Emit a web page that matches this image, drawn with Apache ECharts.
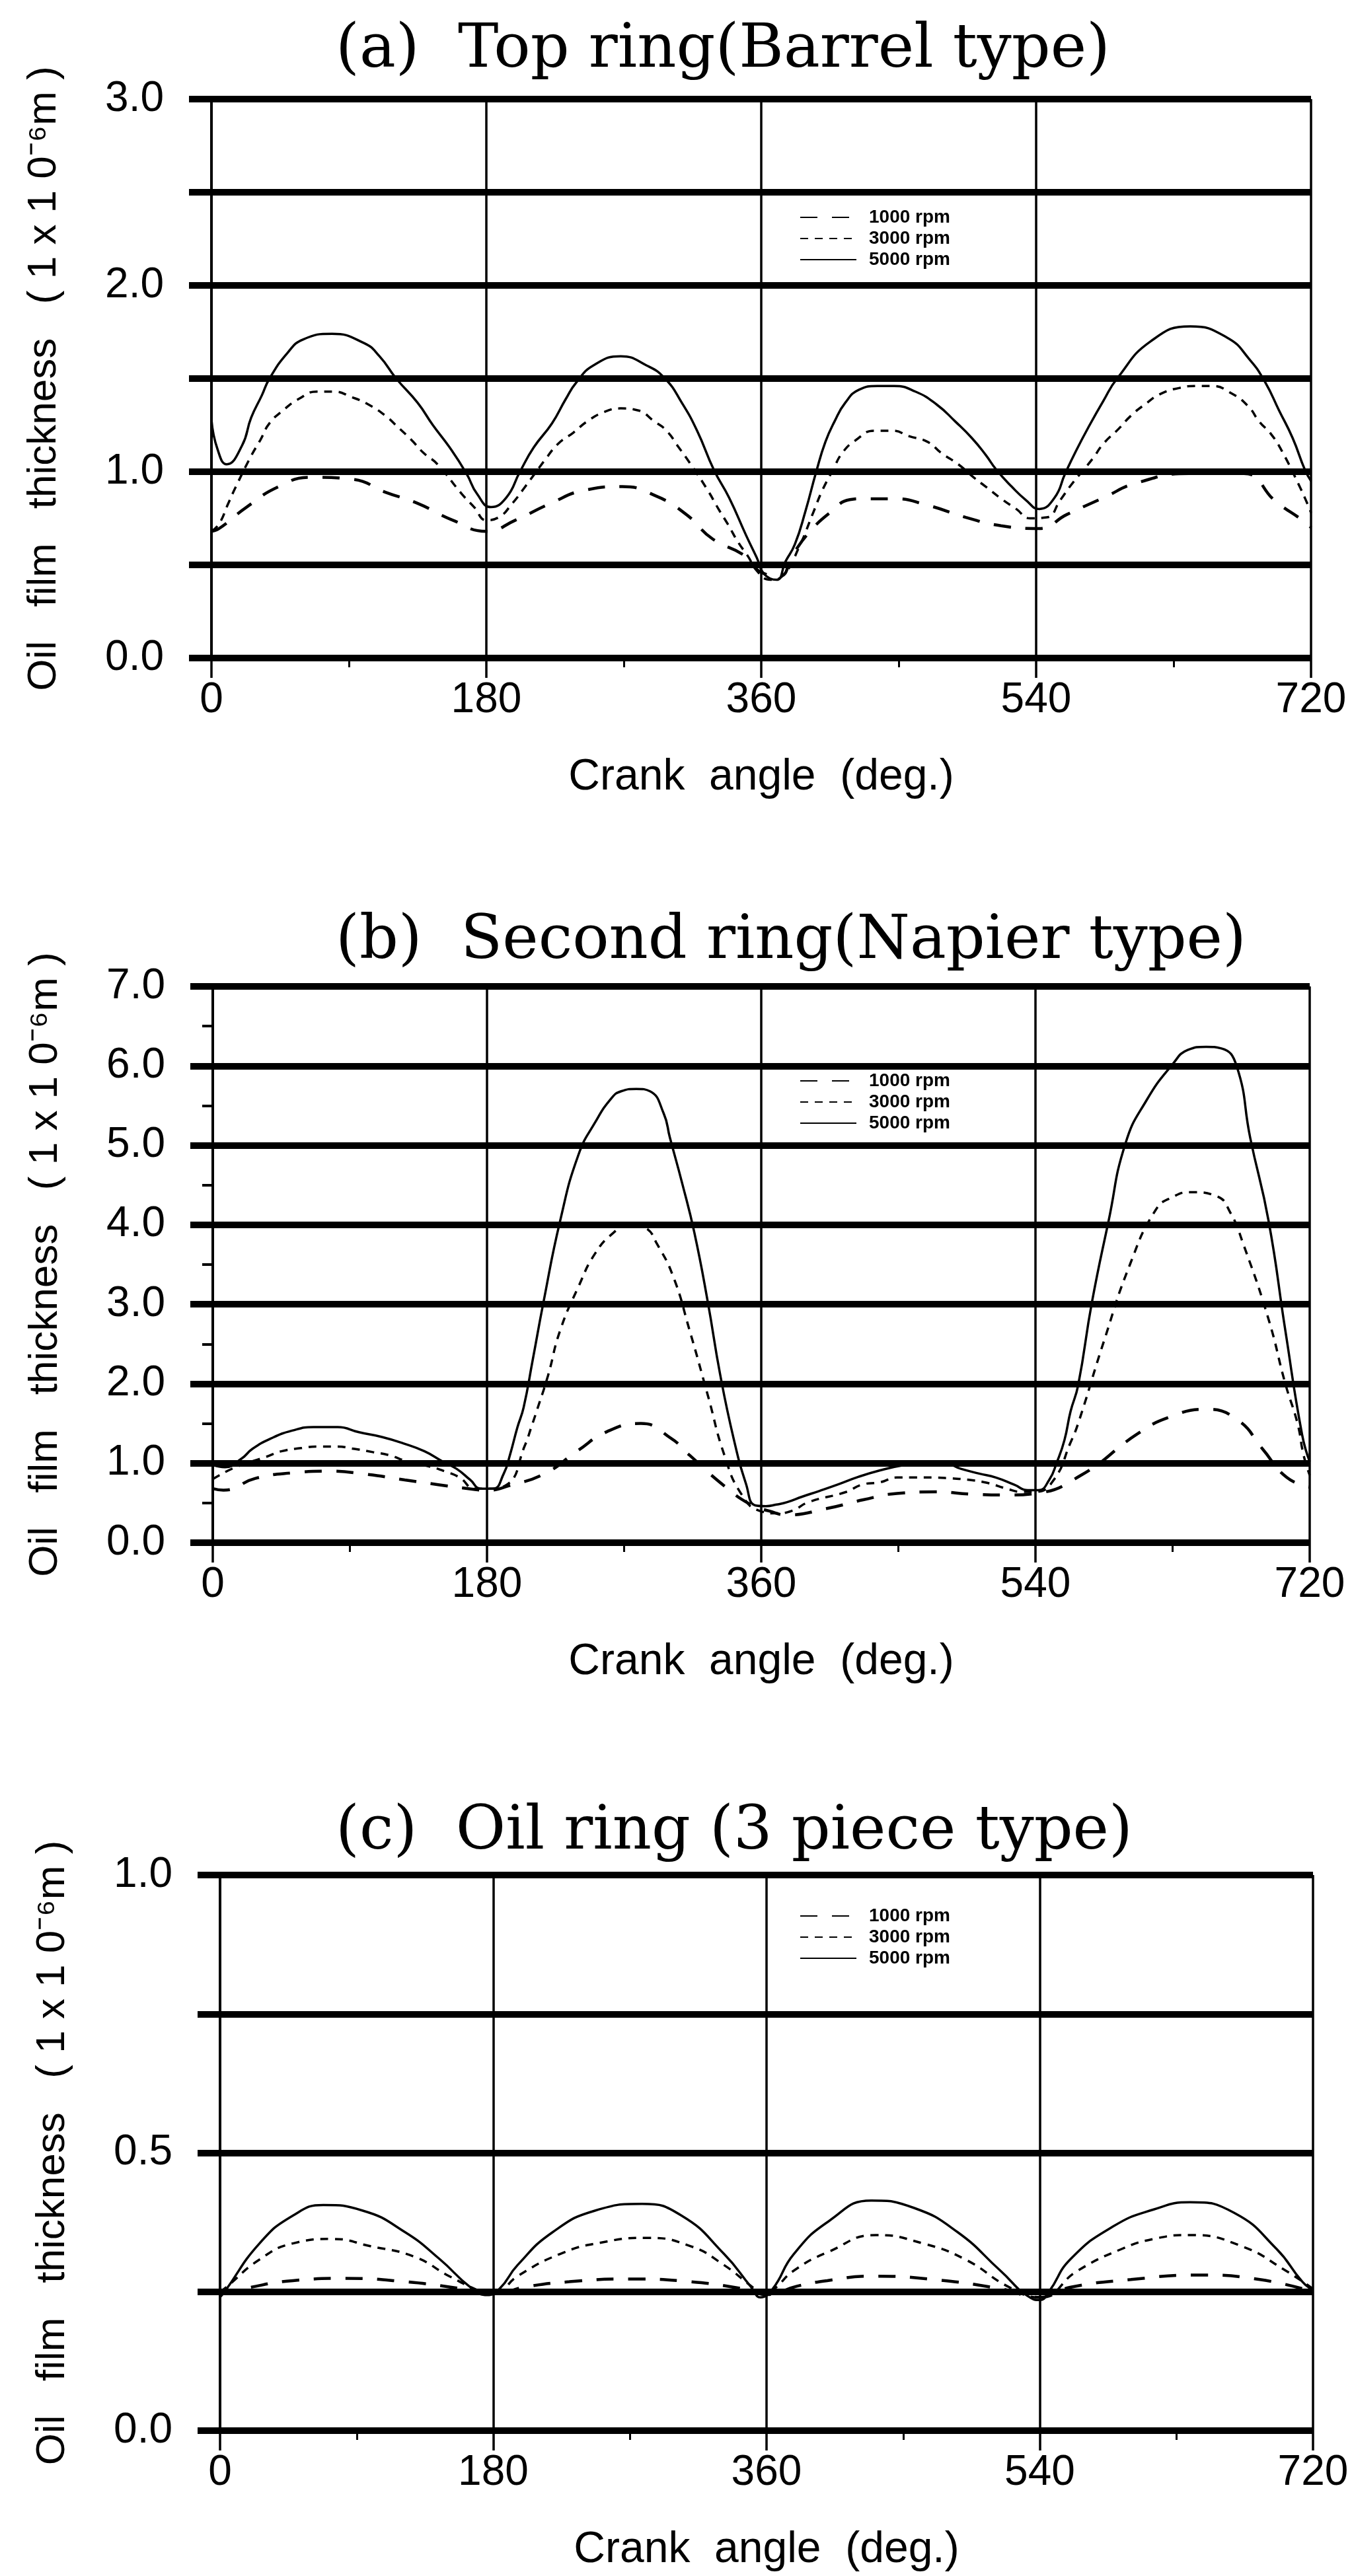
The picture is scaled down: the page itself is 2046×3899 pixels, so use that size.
<!DOCTYPE html>
<html>
<head>
<meta charset="utf-8">
<title>Oil film thickness</title>
<script src="https://cdn.jsdelivr.net/npm/echarts@6/dist/echarts.min.js"></script>
<style>
  html, body { margin: 0; padding: 0; background: #fff; }
  #chart { width: 2046px; height: 3899px; }
</style>
</head>
<body>
<div id="chart"></div>
<script>
// 曲轴转角 (deg) 和油膜厚度 (x1e-6 m)
var xTicks = [0, 180, 360, 540, 720];
var speedNames = ['1000 rpm', '3000 rpm', '5000 rpm'];
var panelTitles = ['(a)  Top ring(Barrel type)', '(b)  Second ring(Napier type)', '(c)  Oil ring (3 piece type)'];

// (a) top ring
var angA1000 = [0, 5, 23, 44, 65, 92, 114, 135, 158, 180, 199, 222, 244, 269, 291, 311, 328, 349, 360, 372, 381, 392, 405, 418, 426, 447, 469, 494, 517, 542, 560, 584, 606, 640, 676, 697, 716, 720];
var thkA1000 = [0.68, 0.695, 0.81, 0.92, 0.97, 0.96, 0.89, 0.83, 0.74, 0.68, 0.74, 0.83, 0.90, 0.92, 0.87, 0.77, 0.64, 0.55, 0.46, 0.44, 0.56, 0.68, 0.78, 0.85, 0.855, 0.855, 0.82, 0.755, 0.71, 0.695, 0.77, 0.86, 0.94, 0.99, 0.99, 0.84, 0.73, 0.70];
var angA3000 = [0, 5, 11, 16, 26, 32, 38, 47, 57, 69, 80, 92, 103, 114, 122, 131, 139, 148, 164, 172, 180, 188, 197, 205, 219, 227, 237, 246, 257, 268, 279, 290, 298, 306, 313, 325, 332, 338, 345, 351, 358, 366, 375, 385, 394, 400, 407, 413, 422, 434, 446, 457, 469, 478, 489, 499, 507, 518, 527, 536, 547, 556, 563, 577, 584, 594, 602, 611, 622, 634, 644, 655, 668, 679, 686, 694, 701, 712, 717, 720];
var thkA3000 = [0.68, 0.72, 0.83, 0.92, 1.085, 1.17, 1.26, 1.33, 1.39, 1.43, 1.43, 1.40, 1.36, 1.30, 1.24, 1.17, 1.10, 1.04, 0.88, 0.81, 0.74, 0.755, 0.83, 0.915, 1.07, 1.15, 1.21, 1.27, 1.32, 1.34, 1.33, 1.27, 1.22, 1.13, 1.05, 0.90, 0.80, 0.72, 0.62, 0.55, 0.46, 0.42, 0.45, 0.60, 0.78, 0.90, 1.01, 1.10, 1.17, 1.22, 1.22, 1.19, 1.16, 1.10, 1.04, 0.97, 0.92, 0.85, 0.80, 0.75, 0.755, 0.85, 0.93, 1.07, 1.15, 1.23, 1.30, 1.36, 1.42, 1.45, 1.46, 1.46, 1.42, 1.35, 1.27, 1.20, 1.11, 0.93, 0.84, 0.78];
var angA5000 = [0, 4, 10, 20, 26, 33, 38, 50, 60, 79, 100, 110, 121, 135, 145, 156, 167, 174, 183, 193, 202, 211, 223, 232, 239, 250, 268, 285, 297, 308, 318, 329, 339, 350, 357, 362, 370, 376, 382, 389, 396, 402, 408, 415, 424, 436, 447, 461, 475, 487, 498, 507, 514, 524, 533, 542, 552, 559, 566, 575, 584, 593, 615, 641, 665, 680, 690, 699, 708, 716, 720];
var thkA5000 = [1.28, 1.12, 1.04, 1.14, 1.29, 1.41, 1.50, 1.64, 1.71, 1.74, 1.69, 1.62, 1.50, 1.37, 1.25, 1.13, 0.99, 0.88, 0.81, 0.86, 1.00, 1.13, 1.26, 1.39, 1.48, 1.57, 1.62, 1.57, 1.50, 1.37, 1.22, 1.01, 0.86, 0.66, 0.54, 0.45, 0.42, 0.52, 0.61, 0.79, 1.00, 1.16, 1.27, 1.37, 1.44, 1.46, 1.46, 1.43, 1.36, 1.27, 1.18, 1.09, 1.01, 0.92, 0.85, 0.80, 0.86, 0.99, 1.11, 1.25, 1.38, 1.50, 1.70, 1.78, 1.72, 1.60, 1.48, 1.33, 1.18, 1.01, 0.95];

// (b) second ring
var angB1000 = [0, 7, 28, 53, 76, 101, 126, 148, 172, 180, 195, 218, 239, 259, 281, 301, 313, 336, 353, 365, 377, 403, 427, 449, 474, 499, 523, 540, 570, 607, 628, 652, 673, 689, 705, 720];
var thkB1000 = [0.68, 0.66, 0.81, 0.88, 0.90, 0.86, 0.79, 0.73, 0.67, 0.66, 0.72, 0.87, 1.15, 1.40, 1.50, 1.31, 1.10, 0.71, 0.48, 0.40, 0.35, 0.43, 0.54, 0.62, 0.64, 0.61, 0.60, 0.62, 0.85, 1.37, 1.58, 1.68, 1.54, 1.18, 0.82, 0.70];
var angB3000 = [0, 15, 35, 45, 58, 69, 81, 93, 105, 116, 128, 142, 152, 162, 172, 180, 193, 205, 209, 213, 220, 228, 240, 251, 263, 274, 285, 291, 302, 313, 325, 336, 347, 359, 370, 380, 391, 416, 426, 438, 449, 461, 473, 484, 497, 509, 521, 531, 540, 552, 563, 568, 585, 602, 619, 630, 642, 659, 668, 676, 693, 704, 712, 716, 720];
var thkB3000 = [0.80, 0.95, 1.08, 1.15, 1.19, 1.21, 1.21, 1.18, 1.14, 1.10, 1.02, 0.96, 0.90, 0.82, 0.68, 0.68, 0.73, 1.23, 1.45, 1.68, 2.10, 2.67, 3.22, 3.64, 3.90, 4.02, 3.95, 3.78, 3.36, 2.67, 1.85, 1.09, 0.61, 0.40, 0.37, 0.40, 0.51, 0.64, 0.73, 0.76, 0.82, 0.82, 0.82, 0.81, 0.79, 0.75, 0.68, 0.64, 0.64, 0.79, 1.26, 1.50, 2.54, 3.50, 4.19, 4.35, 4.41, 4.36, 4.15, 3.78, 2.81, 2.00, 1.50, 1.10, 0.85];
var angB5000 = [0, 8, 19, 26, 38, 52, 66, 82, 96, 111, 125, 139, 151, 160, 169, 176, 184, 191, 195, 200, 204, 210, 217, 228, 240, 251, 262, 268, 278, 287, 296, 300, 308, 316, 325, 333, 342, 350, 356, 363, 370, 377, 387, 398, 410, 424, 438, 452, 466, 480, 491, 503, 514, 526, 535, 542, 549, 554, 559, 563, 568, 577, 588, 599, 613, 630, 640, 652, 662, 672, 681, 693, 704, 715, 720];
var thkB5000 = [0.98, 0.95, 1.06, 1.18, 1.31, 1.41, 1.455, 1.455, 1.39, 1.33, 1.25, 1.15, 1.02, 0.93, 0.79, 0.68, 0.68, 0.87, 1.10, 1.455, 1.70, 2.30, 3.02, 4.05, 4.88, 5.29, 5.60, 5.68, 5.71, 5.68, 5.40, 5.10, 4.53, 3.91, 3.02, 2.12, 1.30, 0.74, 0.47, 0.46, 0.48, 0.51, 0.58, 0.65, 0.73, 0.83, 0.91, 0.97, 1.00, 1.00, 0.93, 0.87, 0.82, 0.73, 0.66, 0.66, 0.79, 1.01, 1.29, 1.65, 1.98, 3.02, 4.05, 5.02, 5.57, 6.02, 6.20, 6.24, 6.22, 6.00, 5.09, 4.05, 2.67, 1.36, 1.02];

// (c) oil ring
var angC1000 = [0, 20, 48, 82, 122, 160, 180, 200, 230, 270, 310, 345, 360, 380, 400, 429, 470, 515, 540, 560, 600, 645, 685, 720];
var thkC1000 = [0.245, 0.258, 0.27, 0.274, 0.268, 0.255, 0.245, 0.258, 0.268, 0.273, 0.268, 0.255, 0.245, 0.26, 0.27, 0.278, 0.272, 0.255, 0.24, 0.258, 0.272, 0.28, 0.272, 0.25];
var angC3000 = [0, 4, 26, 48, 74, 99, 128, 151, 173, 180, 196, 224, 250, 281, 310, 332, 350, 358, 365, 378, 401, 432, 463, 491, 520, 540, 565, 594, 615, 639, 673, 702, 720];
var thkC3000 = [0.25, 0.258, 0.308, 0.337, 0.345, 0.332, 0.313, 0.278, 0.249, 0.245, 0.278, 0.318, 0.338, 0.347, 0.332, 0.298, 0.26, 0.245, 0.255, 0.288, 0.322, 0.352, 0.337, 0.308, 0.258, 0.24, 0.288, 0.327, 0.345, 0.352, 0.332, 0.288, 0.255];
var angC5000 = [0, 3, 26, 48, 68, 94, 122, 145, 165, 176, 184, 196, 219, 247, 278, 304, 332, 350, 356, 364, 378, 401, 429, 457, 486, 514, 534, 540, 546, 560, 588, 615, 639, 668, 696, 713, 720];
var thkC5000 = [0.24, 0.25, 0.337, 0.387, 0.406, 0.396, 0.357, 0.308, 0.258, 0.244, 0.255, 0.298, 0.357, 0.396, 0.408, 0.387, 0.318, 0.258, 0.24, 0.255, 0.318, 0.377, 0.414, 0.401, 0.357, 0.288, 0.239, 0.235, 0.25, 0.308, 0.367, 0.398, 0.411, 0.392, 0.327, 0.268, 0.253];

var yMax = [3, 7, 1];
var yStep = [0.5, 1, 0.25];
var yLabelStep = [1, 1, 0.5];

var ang = [[angA1000, angA3000, angA5000], [angB1000, angB3000, angB5000], [angC1000, angC3000, angC5000]];
var thk = [[thkA1000, thkA3000, thkA5000], [thkB1000, thkB3000, thkB5000], [thkC1000, thkC3000, thkC5000]];

function zip(a, b) {
	var out = [];
	for (var i = 0; i < a.length; i++) out.push([a[i], b[i]]);
	return out;
}

var grids = [
	{ left: 320, width: 1664, top: 150, height: 846 },
	{ left: 322, width: 1660, top: 1493, height: 842 },
	{ left: 333, width: 1654, top: 2838, height: 841 }
];
var titleTops = [26, 1375, 2723];
var legendTops = [310, 1617, 2881];

var lineStyles = [
	{ color: '#000', width: 4.5, type: [26, 22] },
	{ color: '#000', width: 3.5, type: [12, 10] },
	{ color: '#000', width: 3.5, type: 'solid' }
];

var sans = 'Liberation Sans';
var option = {
	backgroundColor: '#fff',
	animation: false,
	color: ['#000', '#000', '#000'],
	title: [],
	legend: [],
	grid: grids,
	xAxis: [],
	yAxis: [],
	series: []
};

for (var p = 0; p < 3; p++) {
	option.title.push({
		text: panelTitles[p],
		left: 503,
		top: titleTops[p],
		textStyle: { fontFamily: 'DejaVu Serif', fontSize: 92, fontWeight: 'normal', color: '#000' }
	});
	option.legend.push({
		data: speedNames,
		orient: 'vertical',
		left: 1205,
		top: legendTops[p],
		itemWidth: 85,
		itemHeight: 14,
		itemGap: 4,
		itemStyle: { opacity: 0 },
		textStyle: { fontFamily: sans, fontSize: 28, fontWeight: 'bold', color: '#000', padding: [0, 0, 0, 14] }
	});
	option.xAxis.push({
		gridIndex: p,
		type: 'value',
		min: 0,
		max: 720,
		interval: 180,
		name: 'Crank  angle  (deg.)',
		nameLocation: 'middle',
		nameGap: 148,
		nameTextStyle: { fontFamily: sans, fontSize: 66, color: '#000' },
		axisLine: { show: false },
		axisTick: { show: true, length: 30, lineStyle: { color: '#000', width: 3.5 } },
		minorTick: { show: true, splitNumber: 2, length: 14, lineStyle: { color: '#000', width: 3 } },
		splitLine: { show: true, lineStyle: { color: '#000', width: 3.5 } },
		axisLabel: { fontFamily: sans, fontSize: 64, color: '#000', margin: 32 }
	});
	(function (step) {
		option.yAxis.push({
			gridIndex: p,
			type: 'value',
			min: 0,
			max: yMax[p],
			interval: yStep[p],
			name: 'Oil   film   thickness   ( 1 x 1 0⁻⁶m )',
			nameLocation: 'middle',
			nameGap: 222,
			nameTextStyle: { fontFamily: sans, fontSize: 62, color: '#000' },
			axisLine: { show: true, lineStyle: { color: '#000', width: 4 } },
			axisTick: { show: true, length: 34, lineStyle: { color: '#000', width: 10 } },
			minorTick: { show: p === 1, splitNumber: 2, length: 16, lineStyle: { color: '#000', width: 4 } },
			splitLine: { show: true, lineStyle: { color: '#000', width: 10 } },
			axisLabel: {
				fontFamily: sans, fontSize: 64, color: '#000', margin: 72,
				formatter: function (v) {
					var k = v / step;
					return Math.abs(k - Math.round(k)) < 1e-6 ? v.toFixed(1) : '';
				}
			}
		});
	})(yLabelStep[p]);
	for (var s = 0; s < 3; s++) {
		option.series.push({
			name: speedNames[s],
			type: 'line',
			xAxisIndex: p,
			yAxisIndex: p,
			symbol: 'none',
			smooth: 0.5,
			lineStyle: lineStyles[s],
			data: zip(ang[p][s], thk[p][s])
		});
	}
}

var chart = echarts.init(document.getElementById('chart'));
chart.setOption(option);
</script>
</body>
</html>
